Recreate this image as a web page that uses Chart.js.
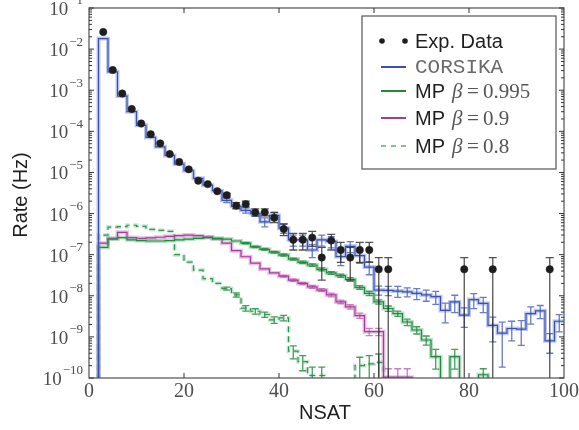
<!DOCTYPE html>
<html>
<head>
<meta charset="utf-8">
<title>Rate vs NSAT</title>
<script src="https://cdn.jsdelivr.net/npm/chart.js@4.4.1/dist/chart.umd.min.js"></script>
<style>
    html, body { margin: 0; padding: 0; background: #fff; }
    #wrap { width: 579px; height: 430px; }
</style>
</head>
<body>
<div id="wrap"><canvas id="rateChart" width="579" height="430"></canvas></div>
<script>
        // ==================== DATA ====================
        // histogram bins: lower edges, width 2 in NSAT
        const binLow = [2, 4, 6, 8, 10, 12, 14, 16, 18, 20, 22, 24, 26, 28, 30, 32, 34, 36, 38, 40,
            42, 44, 46, 48, 50, 52, 54, 56, 58, 60, 62, 64, 66, 68, 70, 72, 74, 76, 78, 80,
            82, 84, 86, 88, 90, 92, 94, 96, 98];
        const binWidth = 2;
        const binTop = 100;

        // CORSIKA (Hz) and relative errors
        const corsika = [1.8e-2, 2.8e-3, 7.2e-4, 3.0e-4, 1.4e-4, 7.1e-5, 4.2e-5, 2.6e-5, 1.6e-5,
            1.1e-5, 7.2e-6, 4.9e-6, 3.6e-6, 2.1e-6, 1.5e-6, 1.2e-6, 1.0e-6, 6.3e-7, 9.0e-7,
            4.4e-7, 2.3e-7, 2.3e-7, 1.3e-7, 2.3e-7, 2.1e-7, 9.0e-8, 1.6e-7, 9.5e-8, 5.0e-8,
            1.38e-8, 1.35e-8, 1.3e-8, 1.25e-8, 1.15e-8, 1.05e-8, 9.5e-9, 4.4e-9, 7.1e-9, 3.4e-9,
            8.1e-9, 6.5e-9, 1.9e-9, 1.23e-9, 1.6e-9, 1.55e-9, 3.7e-9, 4.3e-9, 8e-10, 2.4e-9];
        const corsikaErr = [0, 0, 0, 0, 0, 0, 0, 0, 0, 0, 0, 0, 0,
            0.12, 0.1, 0.15, 0.15, 0.25, 0.2, 0.25, 0.3, 0.3, 0.35, 0.3, 0.3, 0.4, 0.3, 0.35, 0.35,
            0.25, 0.25, 0.3, 0.25, 0.3, 0.3, 0.35, 0.5, 0.45, 0.5,
            0.4, 0.4, 0.6, 0.85, 0.5, 0.6, 0.45, 0.35, 0.5, 0.45];

        // MP beta = 0.995
        const mp995 = [1.5e-7, 2.4e-7, 2.6e-7, 2.3e-7, 2.2e-7, 2.15e-7, 2.15e-7, 2.2e-7, 2.3e-7,
            2.4e-7, 2.5e-7, 2.6e-7, 2.5e-7, 2.4e-7, 2.15e-7, 1.9e-7, 1.55e-7, 1.35e-7, 1.15e-7,
            9.8e-8, 7.8e-8, 6.5e-8, 5.6e-8, 4.4e-8, 3.6e-8, 3.1e-8, 2.5e-8, 1.6e-8, 1.15e-8,
            7.1e-9, 4.9e-9, 3.7e-9, 2.3e-9, 1.47e-9, 8.4e-10, 3.3e-10, 0, 3.3e-10, 0,
            0, 1.2e-10, 0, 0, 0, 0, 0, 0, 0, 0];
        const mp995Err = [0, 0, 0, 0, 0, 0, 0, 0, 0, 0, 0, 0, 0, 0, 0,
            0.04, 0.04, 0.05, 0.05,
            0.06, 0.06, 0.07, 0.07, 0.08, 0.08, 0.09, 0.1, 0.1, 0.12,
            0.12, 0.15, 0.15, 0.18, 0.2, 0.25, 0.5, 0, 0.5, 0,
            0, 0.4, 0, 0, 0, 0, 0, 0, 0, 0];

        // MP beta = 0.9
        const mp09 = [1.9e-7, 2.5e-7, 3.5e-7, 2.6e-7, 2.5e-7, 2.55e-7, 2.65e-7, 2.8e-7, 2.9e-7,
            3.0e-7, 2.9e-7, 2.7e-7, 2.4e-7, 1.9e-7, 1.25e-7, 8.9e-8, 6.2e-8, 4.5e-8, 3.6e-8,
            3.0e-8, 2.4e-8, 2.0e-8, 1.65e-8, 1.38e-8, 1.05e-8, 7.1e-9, 5.4e-9, 3.3e-9, 1.34e-9,
            1.34e-9, 1.05e-10, 1.05e-10, 1.05e-10, 0, 0, 0, 0, 0, 0,
            0, 0, 0, 0, 0, 0, 0, 0, 0, 0];
        const mp09Err = [0, 0, 0, 0, 0, 0, 0, 0, 0, 0, 0, 0, 0, 0, 0, 0, 0, 0, 0,
            0.05, 0.06, 0.06, 0.08, 0.08, 0.1, 0.1, 0.12, 0.15, 0.2,
            0.2, 0.6, 0.6, 0.6,
            0, 0, 0, 0, 0, 0, 0, 0, 0, 0, 0, 0, 0, 0, 0, 0];

        // MP beta = 0.8
        const mp08 = [3.0e-7, 4.7e-7, 4.8e-7, 5.2e-7, 4.9e-7, 4.1e-7, 3.9e-7, 3.7e-7, 1.0e-7,
            6.6e-8, 4.2e-8, 2.6e-8, 2.0e-8, 1.5e-8, 1.05e-8, 5.0e-9, 4.2e-9, 3.5e-9, 2.6e-9,
            2.9e-9, 4.5e-10, 2.5e-10, 1.15e-10, 1.15e-10, 0, 0, 0, 2.0e-10, 2.2e-10,
            2.4e-10, 0, 0, 0, 0, 0, 0, 0, 0, 0,
            0, 0, 0, 0, 0, 0, 0, 0, 0, 0];
        const mp08Err = [0, 0, 0, 0, 0, 0, 0, 0, 0, 0, 0, 0, 0,
            0.08, 0.12, 0.15, 0.15, 0.15, 0.18, 0.15, 0.35, 0.4, 0.6, 0.6, 0, 0, 0, 0.6, 0.6, 0.6,
            0, 0, 0, 0, 0, 0, 0, 0, 0, 0, 0, 0, 0, 0, 0, 0, 0, 0, 0];

        // Experimental data (bin centres), 0 in expLo = bar runs off the bottom
        const expX = [3, 5, 7, 9, 11, 13, 15, 17, 19, 21, 23, 25, 27, 29, 31, 33, 35, 37, 39, 41,
            43, 45, 47, 49, 51, 53, 55, 57, 59, 61, 63, 79, 85, 97];
        const expY = [2.6e-2, 3.1e-3, 8.3e-4, 3.5e-4, 1.55e-4, 8.5e-5, 5.1e-5, 2.8e-5, 1.8e-5,
            1.19e-5, 6.3e-6, 5.2e-6, 3.5e-6, 2.8e-6, 1.56e-6, 1.7e-6, 1.07e-6, 1.07e-6, 7.9e-7,
            4.2e-7, 2.3e-7, 2.3e-7, 2.6e-7, 8.5e-8, 2.2e-7, 1.3e-7, 8.5e-8, 1.3e-7, 1.3e-7,
            4.4e-8, 4.4e-8, 4.4e-8, 4.4e-8, 4.4e-8];
        const expLo = [null, null, null, null, null, null, null, null, null, null, null, null, null,
            2.5e-6, 1.3e-6, 1.45e-6, 8.8e-7, 8.8e-7, 6.0e-7, 2.9e-7, 1.3e-7, 1.3e-7, 1.6e-7,
            2.4e-8, 1.3e-7, 6.5e-8, 2.4e-8, 6.5e-8, 6.5e-8, 0, 0, 0, 0, 0];
        const expHi = [null, null, null, null, null, null, null, null, null, null, null, null, null,
            3.1e-6, 1.85e-6, 2.0e-6, 1.3e-6, 1.3e-6, 1.05e-6, 5.6e-7, 3.3e-7, 3.3e-7, 3.7e-7,
            1.5e-7, 3.1e-7, 2.0e-7, 1.5e-7, 2.0e-7, 2.0e-7, 8.5e-8, 8.5e-8, 8.5e-8, 8.5e-8, 8.5e-8];

        // axes
        const xTicks = [0, 20, 40, 60, 80, 100];
        const yDecades = [-10, -9, -8, -7, -6, -5, -4, -3, -2, -1];

        // ==================== HELPERS ====================
        const FLOOR = 1e-12;
        const SANS = '"Liberation Sans", Arial, sans-serif';
        const SERIF = '"Liberation Serif", "Times New Roman", serif';
        const MONO = '"Liberation Mono", "Courier New", monospace';

        function stepPoints(vals) {
            const pts = [{ x: binLow[0], y: FLOOR }];
            vals.forEach((v, i) => pts.push({ x: binLow[i], y: v > 0 ? v : FLOOR }));
            const last = vals[vals.length - 1];
            pts.push({ x: binTop, y: last > 0 ? last : FLOOR });
            return pts;
        }

        function mcBars(vals, err) {
            const out = [];
            vals.forEach((v, i) => {
                if (v > 0 && err[i] > 0) {
                    out.push({ x: binLow[i] + binWidth / 2, lo: v * (1 - err[i]), hi: v * (1 + err[i]) });
                }
            });
            return out;
        }

        function expBars() {
            const out = [];
            expX.forEach((x, i) => {
                if (expHi[i] !== null) out.push({ x, lo: expLo[i], hi: expHi[i] });
            });
            return out;
        }

        const mcSeries = [
            { vals: corsika, err: corsikaErr, line: '#3a4fae', band: 'rgba(110,135,212,0.45)', bar: 'rgba(75,100,195,0.85)', dash: [] },
            { vals: mp995, err: mp995Err, line: '#1f8b3b', band: 'rgba(80,175,110,0.4)', bar: 'rgba(35,140,65,0.85)', dash: [] },
            { vals: mp09, err: mp09Err, line: '#a7399c', band: 'rgba(205,120,195,0.45)', bar: 'rgba(190,95,175,0.8)', dash: [] },
            { vals: mp08, err: mp08Err, line: '#2a9a4a', band: 'rgba(95,185,125,0.35)', bar: 'rgba(35,140,65,0.85)', dash: [6, 4] }
        ];

        const datasets = [{
            type: 'scatter',
            label: 'Exp. Data',
            data: expX.map((x, i) => ({ x, y: expY[i] })),
            backgroundColor: '#1e1e1e',
            borderColor: '#1e1e1e',
            borderWidth: 0.5,
            pointRadius: 3.7,
            showLine: false,
            errBars: expBars(),
            errColor: 'rgba(40,40,40,0.8)',
            errCap: 4
        }];
        mcSeries.forEach(s => {
            datasets.push({
                type: 'line',
                data: stepPoints(s.vals),
                borderColor: s.line,
                borderWidth: 1.2,
                borderDash: s.dash,
                stepped: true,
                pointRadius: 0,
                fill: false,
                errBars: mcBars(s.vals, s.err),
                errColor: s.bar,
                errCap: 3.5
            });
            datasets.push({
                type: 'line',
                data: stepPoints(s.vals),
                borderColor: s.band,
                borderWidth: 4,
                borderDash: s.dash,
                stepped: true,
                pointRadius: 0,
                fill: false
            });
        });

        // ==================== PLUGINS ====================
        const errorBars = {
            id: 'errorBars',
            beforeDatasetDraw(chart, args) {
                const ds = chart.data.datasets[args.index];
                if (!ds.errBars) return;
                const { ctx, chartArea: a, scales: { x, y } } = chart;
                ctx.save();
                ctx.beginPath();
                ctx.rect(a.left, a.top, a.right - a.left, a.bottom - a.top);
                ctx.clip();
                ctx.strokeStyle = ds.errColor;
                ctx.lineWidth = 1.3;
                ds.errBars.forEach(b => {
                    const px = x.getPixelForValue(b.x);
                    const yHi = y.getPixelForValue(b.hi);
                    const yLo = b.lo > 0 ? y.getPixelForValue(b.lo) : a.bottom + 2;
                    ctx.beginPath();
                    ctx.moveTo(px, yLo);
                    ctx.lineTo(px, yHi);
                    ctx.moveTo(px - ds.errCap, yHi);
                    ctx.lineTo(px + ds.errCap, yHi);
                    if (b.lo > 0) {
                        ctx.moveTo(px - ds.errCap, yLo);
                        ctx.lineTo(px + ds.errCap, yLo);
                    }
                    ctx.stroke();
                });
                ctx.restore();
            }
        };

        function tick(ctx, x0, y0, dx, dy) {
            ctx.beginPath();
            ctx.moveTo(x0, y0);
            ctx.lineTo(x0 + dx, y0 + dy);
            ctx.stroke();
        }

        const axisDecor = {
            id: 'axisDecor',
            afterDraw(chart) {
                const { ctx, chartArea: a, scales: { x, y } } = chart;
                ctx.save();

                // frame
                ctx.strokeStyle = '#505050';
                ctx.lineWidth = 1.2;
                ctx.strokeRect(a.left, a.top, a.right - a.left, a.bottom - a.top);

                // y ticks, major + minor, both sides, pointing in
                ctx.strokeStyle = '#333';
                ctx.lineWidth = 1;
                yDecades.forEach(e => {
                    const py = y.getPixelForValue(Math.pow(10, e));
                    tick(ctx, a.left, py, 5, 0);
                    tick(ctx, a.right, py, -5, 0);
                    if (e < -1) {
                        for (let k = 2; k <= 9; k++) {
                            const pm = y.getPixelForValue(k * Math.pow(10, e));
                            tick(ctx, a.left, pm, 3, 0);
                            tick(ctx, a.right, pm, -3, 0);
                        }
                    }
                });

                // x ticks top and bottom
                xTicks.forEach(t => {
                    if (t === 0 || t === 100) return;
                    const px = x.getPixelForValue(t);
                    tick(ctx, px, a.bottom, 0, -5);
                    tick(ctx, px, a.top, 0, 5);
                });

                // y labels 10^e
                ctx.fillStyle = '#4d4d4d';
                ctx.textAlign = 'right';
                ctx.textBaseline = 'middle';
                yDecades.forEach(e => {
                    const py = y.getPixelForValue(Math.pow(10, e));
                    const expTxt = '\u2212' + (-e);
                    ctx.font = '13px ' + SERIF;
                    ctx.fillText(expTxt, 83, py - 7);
                    const w = ctx.measureText(expTxt).width;
                    ctx.font = '19px ' + SERIF;
                    ctx.fillText('10', 83 - w - 1, py + 2);
                });

                // x labels
                ctx.textAlign = 'center';
                ctx.font = '20px ' + SERIF;
                xTicks.forEach(t => {
                    ctx.fillText(String(t), x.getPixelForValue(t), 392);
                });

                // axis titles
                ctx.fillStyle = '#1e1e1e';
                ctx.font = '20px ' + SANS;
                ctx.fillText('NSAT', 325, 413);
                ctx.save();
                ctx.translate(21, 195);
                ctx.rotate(-Math.PI / 2);
                ctx.fillText('Rate (Hz)', 0, 0);
                ctx.restore();

                ctx.restore();
            }
        };

        const legendBox = {
            id: 'legendBox',
            afterDraw(chart) {
                const ctx = chart.ctx;
                const bx = 362, by = 16, bw = 194, bh = 153;
                const lx0 = 381, lx1 = 406, tx = 415;
                ctx.save();
                ctx.fillStyle = '#fff';
                ctx.fillRect(bx, by, bw, bh);
                ctx.strokeStyle = '#555';
                ctx.lineWidth = 1.2;
                ctx.strokeRect(bx, by, bw, bh);

                // Exp. Data
                ctx.fillStyle = '#1e1e1e';
                [382, 405].forEach(cx => {
                    ctx.beginPath();
                    ctx.arc(cx, 41, 2.8, 0, Math.PI * 2);
                    ctx.fill();
                });
                ctx.textAlign = 'left';
                ctx.textBaseline = 'alphabetic';
                ctx.font = '20px ' + SANS;
                ctx.fillText('Exp. Data', tx, 48);

                // CORSIKA
                ctx.lineWidth = 2;
                ctx.strokeStyle = mcSeries[0].line;
                tick(ctx, lx0, 67, lx1 - lx0, 0);
                ctx.fillStyle = '#6a6a6a';
                ctx.font = '21px ' + MONO;
                ctx.fillText('CORSIKA', tx, 73);

                // MP rows
                const rows = [
                    { y: 91, s: mcSeries[1], beta: '0.995' },
                    { y: 118, s: mcSeries[2], beta: '0.9' },
                    { y: 146, s: mcSeries[3], beta: '0.8' }
                ];
                rows.forEach(r => {
                    ctx.strokeStyle = r.s.line;
                    ctx.lineWidth = r.s.dash.length ? 1.2 : 2;
                    ctx.setLineDash(r.s.dash.length ? [5, 5] : []);
                    tick(ctx, lx0, r.y, lx1 - lx0, 0);
                    ctx.setLineDash([]);
                    ctx.fillStyle = '#1e1e1e';
                    ctx.font = '20px ' + SANS;
                    ctx.fillText('MP', tx, r.y + 7);
                    ctx.fillStyle = '#555';
                    ctx.font = 'italic 21px ' + SERIF;
                    ctx.fillText('\u03b2', 452, r.y + 7);
                    ctx.font = '21px ' + SERIF;
                    ctx.fillText('=', 467, r.y + 7);
                    ctx.fillText(r.beta, 483, r.y + 7);
                });
                ctx.restore();
            }
        };

        // ==================== CHART ====================
        new Chart(document.getElementById('rateChart'), {
            type: 'line',
            data: { datasets },
            options: {
                responsive: false,
                animation: false,
                layout: { padding: { left: 89, right: 15, top: 8, bottom: 52 } },
                plugins: {
                    legend: { display: false },
                    tooltip: { enabled: false }
                },
                scales: {
                    x: { type: 'linear', min: 0, max: 100, display: false },
                    y: { type: 'logarithmic', min: 1e-10, max: 1e-1, display: false }
                }
            },
            plugins: [errorBars, axisDecor, legendBox]
        });
</script>
</body>
</html>
